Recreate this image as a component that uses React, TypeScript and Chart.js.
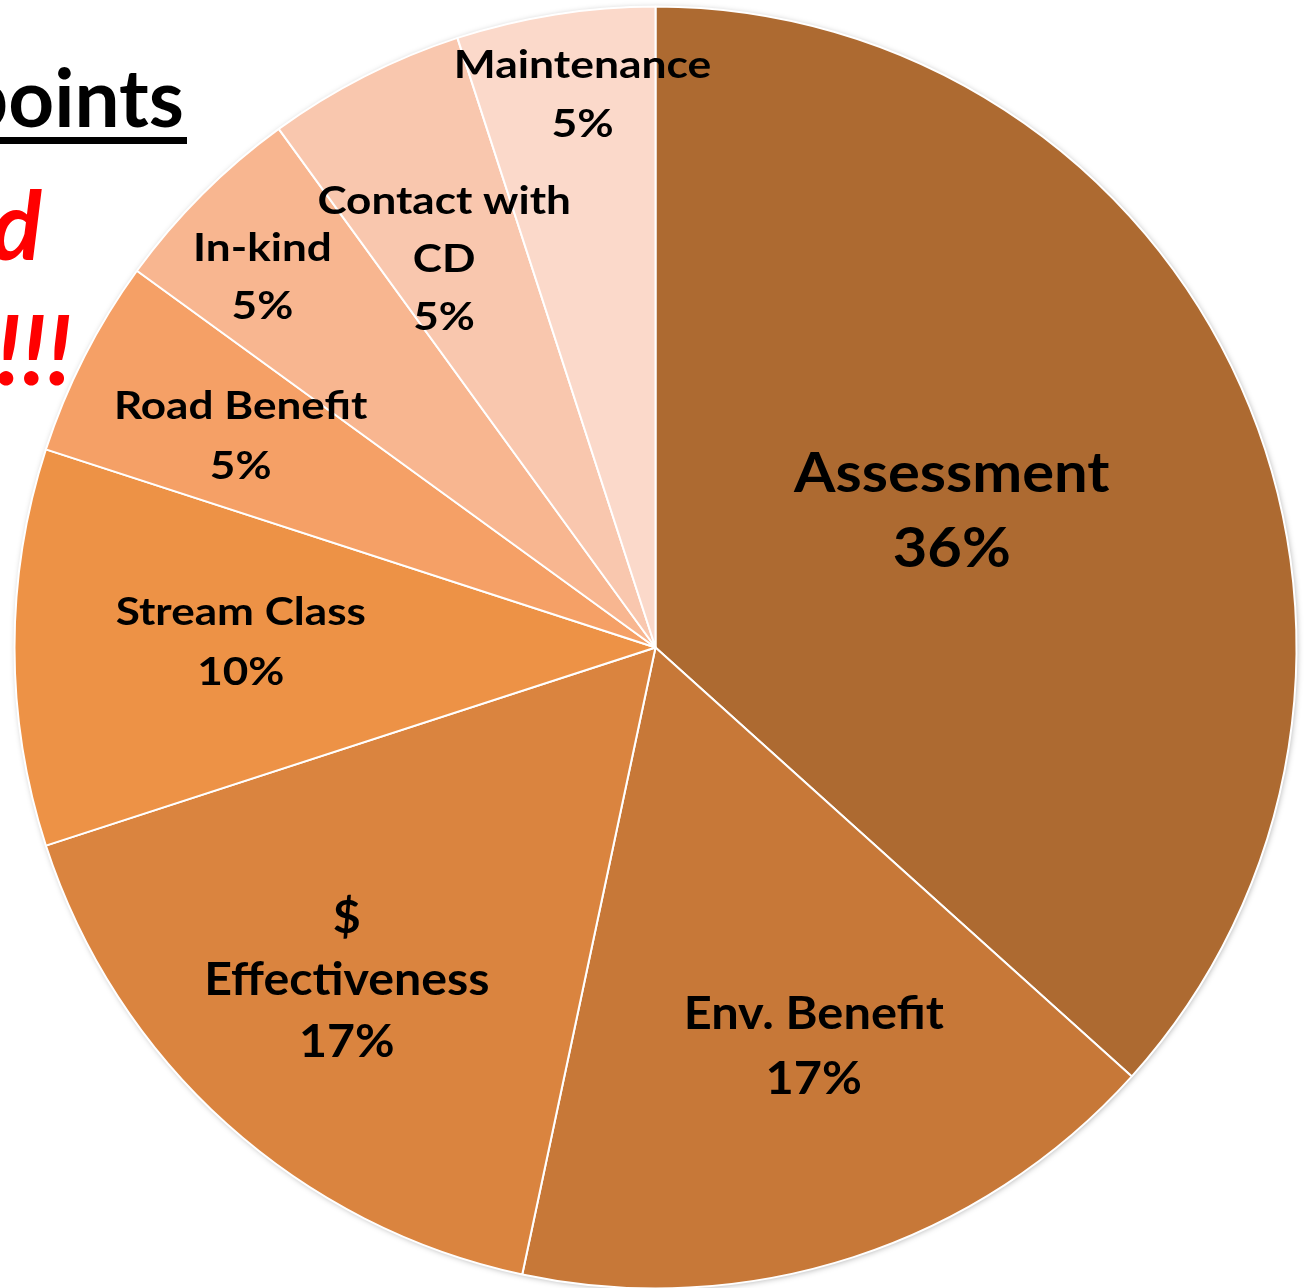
import React, { useEffect, useRef } from "react";
import { Chart, registerables } from "chart.js";

Chart.register(...registerables);

// ---- data ----
const categories = [
  "Assessment",
  "Env. Benefit",
  "$\nEffectiveness",
  "Stream Class",
  "Road Benefit",
  "In-kind",
  "Contact with\nCD",
  "Maintenance",
];
const points = [110, 50, 50, 30, 15, 15, 15, 15];
const percentLabels = ["36%", "17%", "17%", "10%", "5%", "5%", "5%", "5%"];

// ---- styles ----
const sliceColors = [
  "#AD6A31",
  "#C77838",
  "#DA843F",
  "#ED9246",
  "#F5A066",
  "#F8B690",
  "#F9C7AE",
  "#FBD9CA",
];
// label placement: fraction of radius along slice mid-angle, angle tweak (deg), font size, line height, horizontal stretch
const labelLayout = [
  { frac: 0.51, dAng: -1.0, size: 56, lh: 75, sx: 1.065 },
  { frac: 0.668, dAng: -3.7, size: 46, lh: 65, sx: 1.06 },
  { frac: 0.706, dAng: 1.0, size: 46, lh: 62, sx: 1.05 },
  { frac: 0.647, dAng: 0.9, size: 39, lh: 60, sx: 1.13 },
  { frac: 0.727, dAng: 0.1, size: 39, lh: 60, sx: 1.13 },
  { frac: 0.844, dAng: -1.6, size: 39, lh: 58, sx: 1.13 },
  { frac: 0.691, dAng: -1.5, size: 39, lh: 58, sx: 1.13 },
  { frac: 0.872, dAng: 1.5, size: 39, lh: 59, sx: 1.14 },
];
const FONT = "Lato, 'Open Sans', sans-serif";

const backdropPlugin = {
  id: "backdrop",
  beforeDatasetsDraw(chart: any) {
    const ctx = chart.ctx;
    ctx.save();
    // slide texts behind the pie
    ctx.fillStyle = "#000";
    ctx.font = `bold 80px ${FONT}`;
    ctx.textAlign = "right";
    ctx.textBaseline = "alphabetic";
    ctx.fillText("points", 184, 127);
    ctx.fillRect(0, 137, 187, 7);
    ctx.fillStyle = "#FF0000";
    ctx.font = `italic bold 96px ${FONT}`;
    ctx.fillText("ed", 42, 260);
    ctx.fillText("!!!", 72, 385);
    // pie shadow
    const arc = chart.getDatasetMeta(0).data[0];
    if (arc) {
      const { x, y, outerRadius } = arc.getProps(["x", "y", "outerRadius"], true);
      ctx.shadowColor = "rgba(0,0,0,0.35)";
      ctx.shadowBlur = 6;
      ctx.shadowOffsetX = 1;
      ctx.shadowOffsetY = 1;
      ctx.fillStyle = "#fff";
      ctx.beginPath();
      ctx.arc(x, y, outerRadius - 0.5, 0, Math.PI * 2);
      ctx.fill();
    }
    ctx.restore();
  },
};

const labelPlugin = {
  id: "sliceLabels",
  afterDatasetsDraw(chart: any) {
    const ctx = chart.ctx;
    const meta = chart.getDatasetMeta(0);
    meta.data.forEach((arc: any, i: number) => {
      const { x, y, startAngle, endAngle, outerRadius } = arc.getProps(
        ["x", "y", "startAngle", "endAngle", "outerRadius"],
        true
      );
      const L = labelLayout[i];
      const mid = (startAngle + endAngle) / 2 + (L.dAng * Math.PI) / 180;
      const r = outerRadius * L.frac;
      const cx = x + Math.cos(mid) * r;
      const cy = y + Math.sin(mid) * r;
      const lines = [...categories[i].split("\n"), percentLabels[i]];
      const cap = L.size * 0.7165;
      lines.forEach((t, j) => {
        const by = cy + (j - (lines.length - 1) / 2) * L.lh + cap / 2;
        ctx.save();
        ctx.font = `bold ${L.size}px ${FONT}`;
        ctx.textAlign = "center";
        ctx.textBaseline = "alphabetic";
        ctx.fillStyle = "#000";
        ctx.translate(cx, by);
        ctx.scale(L.sx, 1);
        ctx.fillText(t, 0, 0);
        ctx.restore();
      });
    });
  },
};

export default function App() {
  const ref = useRef<HTMLCanvasElement | null>(null);
  useEffect(() => {
    if (!ref.current) return;
    const chart = new Chart(ref.current, {
      type: "pie",
      data: {
        labels: categories,
        datasets: [
          {
            data: points,
            backgroundColor: sliceColors,
            borderColor: "#ffffff",
            borderWidth: 2,
          },
        ],
      },
      options: {
        responsive: false,
        animation: false,
        devicePixelRatio: 1,
        layout: { padding: { left: 13.5, right: 9.5, top: 5.5, bottom: 10.5 } },
        plugins: {
          legend: { display: false },
          tooltip: { enabled: false },
        },
      },
      plugins: [backdropPlugin, labelPlugin],
    });
    return () => chart.destroy();
  }, []);
  return (
    <div
      style={{
        position: "absolute",
        left: 0,
        top: 0,
        width: 1307,
        height: 1288,
        overflow: "hidden",
        background: "#fff",
      }}
    >
      <canvas ref={ref} width={1307} height={1300} style={{ display: "block" }} />
    </div>
  );
}
